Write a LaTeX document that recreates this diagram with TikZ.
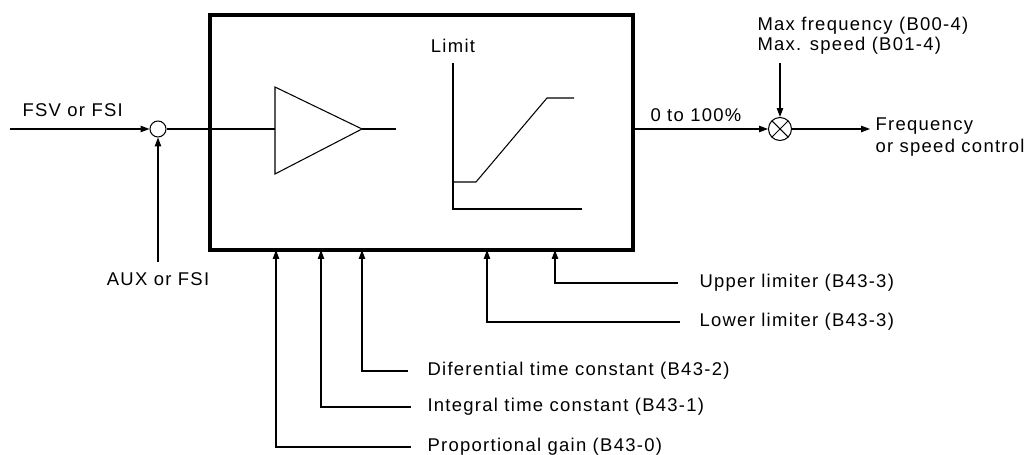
\documentclass[tikz,border=0pt]{standalone}
\usepackage{fontspec}
\setmainfont{Liberation Sans}[LetterSpace=7]
\usetikzlibrary{arrows.meta}

\begin{document}
\begin{tikzpicture}[x=0.02cm, y=-0.02cm, line width=0.6pt,
    sig/.style={-{Triangle[length=5pt,width=3.6pt]}},
    lbl/.style={font=\fontsize{10.5}{12}\selectfont, inner sep=0pt},
    junction/.style={draw, circle, inner sep=0pt, minimum size=0.32cm},
    mult/.style={draw, circle, inner sep=0pt, minimum size=0.46cm,
        path picture={\draw (path picture bounding box.north west) -- (path picture bounding box.south east)
            (path picture bounding box.north east) -- (path picture bounding box.south west);}}]
\useasboundingbox (0,0) rectangle (1029,455);

% Controller block
\node[draw, line width=1.8pt, inner sep=0pt, minimum width=8.46cm, minimum height=4.7cm] (ctrl) at (421.5,132.5) {};

% Input summing point
\node[junction] (sum) at (158,129) {};
\coordinate (fsv) at (10,129);
\coordinate (aux) at (158,262);
\draw[sig] (fsv) -- (sum);
\draw[sig] (aux) -- (sum);
\node[lbl, anchor=base west] (fsvlbl) at (22,117) {FSV or FSI};
\node[lbl, anchor=base] (auxlbl) at (158,286) {AUX or FSI};

% PID amplifier
\coordinate (ampin) at (275,129);
\coordinate (ampout) at (362,129);
\draw (275,87) -- (ampout) -- (275,174) -- cycle;
\draw (sum) -- (ampin);
\draw (ampout) -- (396,129);

% Limiter curve
\node[lbl, anchor=base] (limlbl) at (453,53) {Limit};
\draw (453,63) -- (453,209) -- (582,209);
\draw (453,182) -- (476,182) -- (547,98) -- (574,98);

% Output multiplier
\node[mult] (mul) at (780,129) {};
\coordinate (maxin) at (780,63);
\coordinate (out) at (870,129);
\draw[sig] (ctrl.east |- mul) -- (mul);
\draw[sig] (maxin) -- (mul);
\draw[sig] (mul) -- (out);
\node[lbl, anchor=base west] (pctlbl) at (650,122) {0 to 100\%};
\node[lbl, anchor=base west] (maxf) at (757,31) {Max frequency (B00-4)};
\node[lbl, anchor=base west] (maxs) at (757,51) {Max. speed (B01-4)};
\node[lbl, anchor=base west] (freq) at (875,131) {Frequency};
\node[lbl, anchor=base west] (spd) at (875,153) {or speed control};

% Parameter inputs
\coordinate (kpin) at (276,250);
\coordinate (tiin) at (321,250);
\coordinate (tdin) at (362,250);
\coordinate (loin) at (487,250);
\coordinate (hiin) at (555,250);
\node[lbl, anchor=west] (hi) at (699,283) {Upper limiter (B43-3)};
\node[lbl, anchor=west] (lo) at (699,322) {Lower limiter (B43-3)};
\node[lbl, anchor=west] (td) at (427,371) {Diferential time constant (B43-2)};
\node[lbl, anchor=west] (ti) at (427,407) {Integral time constant (B43-1)};
\node[lbl, anchor=west] (kp) at (427,447) {Proportional gain (B43-0)};
\draw[sig] ([xshift=-0.42cm]hi.west) -| (hiin);
\draw[sig] ([xshift=-0.38cm]lo.west) -| (loin);
\draw[sig] ([xshift=-0.38cm]td.west) -| (tdin);
\draw[sig] ([xshift=-0.32cm]ti.west) -| (tiin);
\draw[sig] ([xshift=-0.32cm]kp.west) -| (kpin);

\end{tikzpicture}
\end{document}
